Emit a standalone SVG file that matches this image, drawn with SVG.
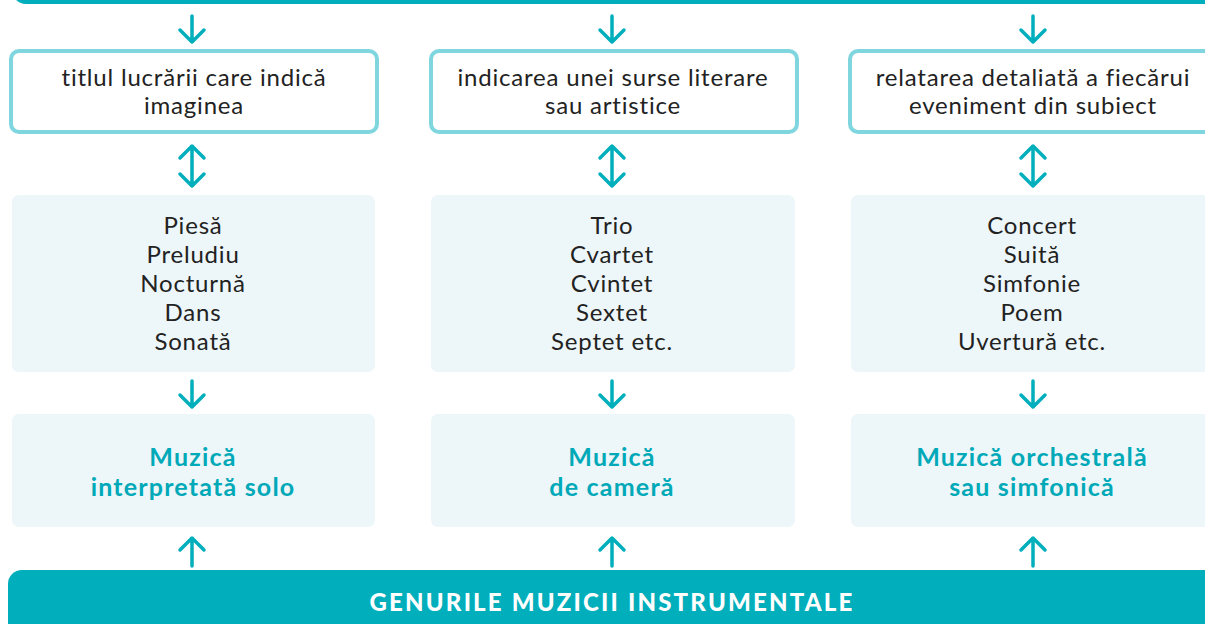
<svg xmlns="http://www.w3.org/2000/svg" width="1205" height="624" viewBox="0 0 1205 624">
<style>
.top{fill:#ffffff;stroke:#7fd6de;stroke-width:4}
.mid{fill:#edf6f9}
.t{font-family:Lato,"Noto Sans",sans-serif;font-size:24px;fill:#222222;text-anchor:middle;letter-spacing:0.8px}
.b{font-family:Lato,"Noto Sans",sans-serif;font-size:25px;font-weight:bold;fill:#00a9b8;text-anchor:middle;letter-spacing:1.2px}
.ban{fill:#00aebc}
.bt{font-family:Lato,"Open Sans",sans-serif;font-size:24px;font-weight:900;fill:#ffffff;text-anchor:middle;letter-spacing:2.2px}
.arr{fill:none;stroke:#00aebc;stroke-width:3.5;stroke-linecap:round;stroke-linejoin:round}
</style>
<g id="banner-top"><rect class="ban" x="12" y="-40" width="1220" height="44" rx="14"/></g>
<g id="connectors">
<path class="arr" d="M192 16V42M180 30L192 42L204 30"/>
<path class="arr" d="M612 16V42M600 30L612 42L624 30"/>
<path class="arr" d="M1033 16V42M1021 30L1033 42L1045 30"/>
<path class="arr" d="M192 146V186M180 158L192 146L204 158M180 174L192 186L204 174"/>
<path class="arr" d="M612 146V186M600 158L612 146L624 158M600 174L612 186L624 174"/>
<path class="arr" d="M1033 146V186M1021 158L1033 146L1045 158M1021 174L1033 186L1045 174"/>
<path class="arr" d="M192 381V407M180 395L192 407L204 395"/>
<path class="arr" d="M612 381V407M600 395L612 407L624 395"/>
<path class="arr" d="M1033 381V407M1021 395L1033 407L1045 395"/>
<path class="arr" d="M192 566V538M180 550L192 538L204 550"/>
<path class="arr" d="M612 566V538M600 550L612 538L624 550"/>
<path class="arr" d="M1033 566V538M1021 550L1033 538L1045 550"/>
</g>
<g id="top1"><rect class="top" x="11" y="51" width="366" height="81" rx="8"/><text class="t" x="194" y="86">titlul lucrării care indică</text><text class="t" x="194" y="114">imaginea</text></g>
<g id="top2"><rect class="top" x="431" y="51" width="366" height="81" rx="8"/><text class="t" x="613" y="86">indicarea unei surse literare</text><text class="t" x="613" y="114">sau artistice</text></g>
<g id="top3"><rect class="top" x="850" y="51" width="370" height="81" rx="8"/><text class="t" x="1033" y="86">relatarea detaliată a fiecărui</text><text class="t" x="1033" y="114">eveniment din subiect</text></g>
<g id="mid1"><rect class="mid" x="12" y="195" width="363" height="177" rx="7"/><text class="t" x="193" y="234">Piesă</text><text class="t" x="193" y="263">Preludiu</text><text class="t" x="193" y="292">Nocturnă</text><text class="t" x="193" y="321">Dans</text><text class="t" x="193" y="350">Sonată</text></g>
<g id="mid2"><rect class="mid" x="431" y="195" width="364" height="177" rx="7"/><text class="t" x="612" y="234">Trio</text><text class="t" x="612" y="263">Cvartet</text><text class="t" x="612" y="292">Cvintet</text><text class="t" x="612" y="321">Sextet</text><text class="t" x="612" y="350">Septet etc.</text></g>
<g id="mid3"><rect class="mid" x="851" y="195" width="370" height="177" rx="7"/><text class="t" x="1032" y="234">Concert</text><text class="t" x="1032" y="263">Suită</text><text class="t" x="1032" y="292">Simfonie</text><text class="t" x="1032" y="321">Poem</text><text class="t" x="1032" y="350">Uvertură etc.</text></g>
<g id="bot1"><rect class="mid" x="12" y="414" width="363" height="113" rx="7"/><text class="b" x="193" y="466">Muzică</text><text class="b" x="193" y="496">interpretată solo</text></g>
<g id="bot2"><rect class="mid" x="431" y="414" width="364" height="113" rx="7"/><text class="b" x="612" y="466">Muzică</text><text class="b" x="612" y="496">de cameră</text></g>
<g id="bot3"><rect class="mid" x="851" y="414" width="370" height="113" rx="7"/><text class="b" x="1032" y="466">Muzică orchestrală</text><text class="b" x="1032" y="496">sau simfonică</text></g>
<g id="banner-bottom"><rect class="ban" x="8" y="570" width="1230" height="80" rx="14"/><text class="bt" x="612" y="611">GENURILE MUZICII INSTRUMENTALE</text></g>
</svg>
